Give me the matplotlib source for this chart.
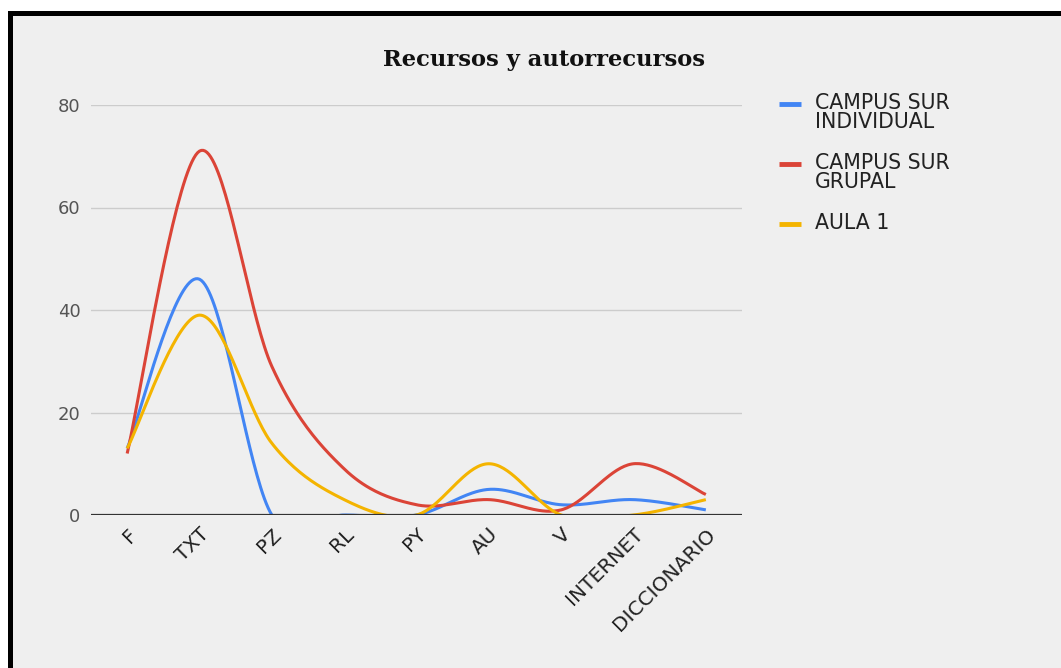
import matplotlib as mpl
mpl.use('Agg')
import matplotlib.pyplot as plt
import matplotlib.transforms as mtrans
from matplotlib.lines import Line2D
from matplotlib.patches import Rectangle
import numpy as np

categories = ['F', 'TXT', 'PZ', 'RL', 'PY', 'AU', 'V', 'INTERNET', 'DICCIONARIO']
individual = [13, 46, 0, 0, 0, 5, 2, 3, 1]
grupal = [12, 71, 29, 9, 2, 3, 1, 10, 4]
aula1 = [13, 39, 14, 3, 0, 10, 0, 0, 3]
series_labels = ['CAMPUS SUR\nINDIVIDUAL', 'CAMPUS SUR\nGRUPAL', 'AULA 1']
colors = ['#4285F4', '#DB4437', '#F4B400']
yticks = [0, 20, 40, 60, 80]


def smooth(xs, ys, n=40):
    # cubic curve through every point (catmull-rom style), like the "function" curve
    xs = np.asarray(xs, float)
    ys = np.asarray(ys, float)
    px, py = [], []
    k = len(xs)
    for i in range(k - 1):
        x0, y0 = xs[max(i - 1, 0)], ys[max(i - 1, 0)]
        x1, y1 = xs[i], ys[i]
        x2, y2 = xs[i + 1], ys[i + 1]
        x3, y3 = xs[min(i + 2, k - 1)], ys[min(i + 2, k - 1)]
        c1x, c1y = x1 + (x2 - x0) / 6, y1 + (y2 - y0) / 6
        c2x, c2y = x2 - (x3 - x1) / 6, y2 - (y3 - y1) / 6
        t = np.linspace(0, 1, n)
        a, b, c, d = (1 - t) ** 3, 3 * (1 - t) ** 2 * t, 3 * (1 - t) * t ** 2, t ** 3
        px.extend(a * x1 + b * c1x + c * c2x + d * x2)
        py.extend(a * y1 + b * c1y + c * c2y + d * y2)
    return np.array(px), np.array(py)


fig = plt.figure(figsize=(10.61, 6.68), dpi=100, facecolor='white')
# grey card with thick black edge on top and left
fig.add_artist(Rectangle((8 / 1061, 0), 1, 1 - 11 / 668, transform=fig.transFigure,
                         facecolor='#efefef', edgecolor='none', zorder=-10))
fig.add_artist(Rectangle((8 / 1061, 0), 5 / 1061, 1 - 11 / 668, transform=fig.transFigure,
                         facecolor='black', edgecolor='none', zorder=-9))
fig.add_artist(Rectangle((8 / 1061, 1 - 16 / 668), 1, 5 / 668, transform=fig.transFigure,
                         facecolor='black', edgecolor='none', zorder=-9))

ax = fig.add_axes([91 / 1061, 153 / 668, 651 / 1061, 410 / 668])
ax.set_facecolor('none')
x = np.arange(len(categories))
for vals, col in zip([individual, grupal, aula1], colors):
    sx, sy = smooth(x, vals)
    ax.plot(sx, sy, color=col, linewidth=2.2, solid_capstyle='butt', zorder=3)

ax.set_xlim(-0.5, len(categories) - 0.5)
ax.set_ylim(0, 80)
ax.set_yticks(yticks)
ax.grid(axis='y', color='#cccccc', linewidth=1)
ax.axhline(0, color='#333333', linewidth=1.6, zorder=4)
for s in ax.spines.values():
    s.set_visible(False)
ax.set_xticks(x)
ax.set_xticklabels(categories, rotation=45, ha='right', rotation_mode='anchor',
                   fontsize=14.5, color='#222222', family='DejaVu Sans')
shift = mtrans.ScaledTranslation(3 / 72, 0, fig.dpi_scale_trans)
for lab in ax.get_xticklabels():
    lab.set_transform(lab.get_transform() + shift)
ax.tick_params(axis='x', length=0, pad=7)
ax.tick_params(axis='y', length=0, pad=7.5, labelsize=13, labelcolor='#555555')

fig.text(544 / 1061, 1 - 60 / 668, 'Recursos y autorrecursos', ha='center', va='center',
         fontsize=16.3, fontweight='bold', family='DejaVu Serif', color='#111111')

# legend drawn by hand: marker beside first line of each label
leg_y = [104, 164, 224]
for lab, col, yy in zip(series_labels, colors, leg_y):
    fy = 1 - yy / 668
    fig.add_artist(Line2D([779 / 1061, 801 / 1061], [fy, fy], transform=fig.transFigure,
                          color=col, linewidth=3.5, solid_capstyle='butt'))
    fig.text(815 / 1061, fy + 11 / 668, lab, ha='left', va='top', fontsize=14.8,
             family='DejaVu Sans', color='#222222', linespacing=0.95)

plt.savefig('out.png', dpi=100, facecolor=fig.get_facecolor())
